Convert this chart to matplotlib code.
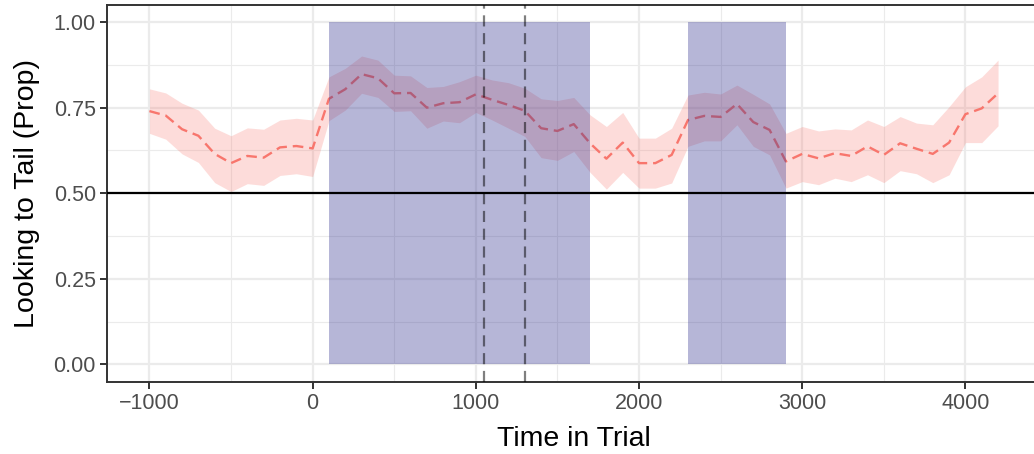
import matplotlib
matplotlib.use("Agg")
import matplotlib.pyplot as plt
import numpy as np

plt.rcParams['font.family'] = ['Liberation Sans', 'DejaVu Sans']

# time bins (ms) and proportion of looks to the tail, with CI band
time_ms = np.arange(-1000, 4201, 100)
prop = [0.740, 0.727, 0.687, 0.668, 0.615, 0.588, 0.609, 0.604, 0.634, 0.638,
        0.631, 0.776, 0.804, 0.848, 0.836, 0.792, 0.793, 0.750, 0.763, 0.766,
        0.789, 0.773, 0.758, 0.741, 0.690, 0.682, 0.702, 0.646, 0.601, 0.648,
        0.588, 0.588, 0.612, 0.714, 0.726, 0.723, 0.761, 0.708, 0.685, 0.593,
        0.615, 0.602, 0.617, 0.609, 0.637, 0.612, 0.646, 0.630, 0.615, 0.648,
        0.731, 0.748, 0.792]
upper = [0.805, 0.793, 0.763, 0.743, 0.690, 0.668, 0.691, 0.687, 0.714, 0.719,
         0.714, 0.840, 0.865, 0.901, 0.889, 0.845, 0.843, 0.809, 0.812, 0.826,
         0.845, 0.831, 0.823, 0.807, 0.776, 0.771, 0.780, 0.729, 0.695, 0.736,
         0.661, 0.661, 0.690, 0.787, 0.795, 0.790, 0.816, 0.789, 0.761, 0.675,
         0.695, 0.682, 0.688, 0.685, 0.714, 0.695, 0.724, 0.705, 0.700, 0.753,
         0.811, 0.840, 0.889]
lower = [0.675, 0.658, 0.615, 0.590, 0.531, 0.505, 0.528, 0.523, 0.552, 0.557,
         0.549, 0.712, 0.743, 0.792, 0.780, 0.739, 0.741, 0.690, 0.711, 0.706,
         0.736, 0.714, 0.690, 0.666, 0.604, 0.596, 0.622, 0.561, 0.512, 0.561,
         0.515, 0.515, 0.530, 0.637, 0.653, 0.653, 0.700, 0.637, 0.612, 0.515,
         0.534, 0.525, 0.544, 0.534, 0.554, 0.531, 0.566, 0.557, 0.531, 0.554,
         0.648, 0.648, 0.697]

windows = [(100, 1700), (2300, 2900)]
markers = [1050, 1300]
chance = 0.5

xticks = [-1000, 0, 1000, 2000, 3000, 4000]
yticks = [0.0, 0.25, 0.5, 0.75, 1.0]

fig = plt.figure(figsize=(10.34, 4.54), dpi=100)
ax = fig.add_axes([107 / 1034, 72.5 / 454, 933.5 / 1034, 376.5 / 454])

ax.set_xlim(-1260, 4460)
ax.set_ylim(-0.05, 1.05)

# ggplot-ish grid
ax.set_xticks(xticks)
ax.set_yticks(yticks)
ax.set_xticks([-500, 500, 1500, 2500, 3500], minor=True)
ax.set_yticks([0.125, 0.375, 0.625, 0.875], minor=True)
ax.grid(which='major', color='#EBEBEB', linewidth=1.6, zorder=0)
ax.grid(which='minor', color='#EBEBEB', linewidth=0.8, zorder=0)
ax.set_axisbelow(True)

col = '#F8766D'
ax.fill_between(time_ms, lower, upper, color=col, alpha=0.25, linewidth=0, zorder=2)
ax.plot(time_ms, prop, color=col, linewidth=1.7, linestyle=(0, (4.5, 2.5)), zorder=3)

for x0, x1 in windows:
    ax.axvspan(x0, x1, ymin=0.05 / 1.1, ymax=1.05 / 1.1, facecolor=(0.19, 0.19, 0.56),
               alpha=0.35, linewidth=0, zorder=4)

ax.axhline(chance, color='black', linewidth=1.6, zorder=5)
for m in markers:
    ax.axvline(m, color='black', alpha=0.5, linewidth=1.6, linestyle=(0, (5, 3)), zorder=6)

for side in ['top', 'bottom', 'left', 'right']:
    ax.spines[side].set_color('#333333')
    ax.spines[side].set_linewidth(1.4)

ax.set_xticklabels(['\u22121000', '0', '1000', '2000', '3000', '4000'])
ax.set_yticklabels(['0.00', '0.25', '0.50', '0.75', '1.00'])
ax.tick_params(which='major', length=5, width=1.4, color='#333333',
               labelsize=15.5, labelcolor='#4D4D4D', pad=3)
ax.tick_params(which='minor', length=0)

ax.set_xlabel('Time in Trial', fontsize=20.5, labelpad=9)
ax.set_ylabel('Looking to Tail (Prop)', fontsize=20.5, labelpad=10)

fig.savefig('out.png', dpi=100)
